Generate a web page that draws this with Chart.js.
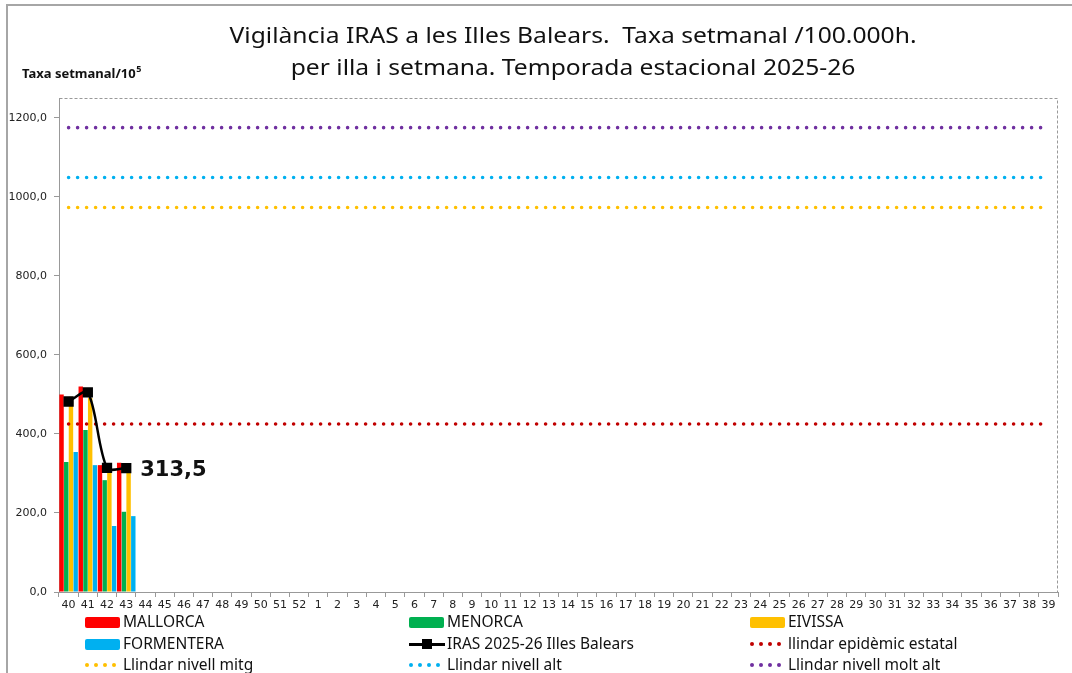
<!DOCTYPE html>
<html>
<head>
<meta charset="utf-8">
<script src="https://cdn.jsdelivr.net/npm/chart.js@4"></script>
<style>
  body { margin: 0; background: #fff; }
  #wrap { position: relative; width: 1072px; height: 673px; }
  .leg { position: absolute; font-family: "Noto Sans", sans-serif; font-size: 15.5px; color: #111; white-space: nowrap; line-height: 20px; }
  .sw { position: absolute; border-radius: 2px; }
  .dots { position: absolute; height: 4px; }
  .dots span { position: absolute; top: 0; width: 4px; height: 4px; border-radius: 2px; }
</style>
</head>
<body>
<div id="wrap">
  <canvas id="Chart" width="1072" height="673"></canvas>
  <div id="legend"></div>
</div>
<script>
// Weeks of the season (40..52, 1..39)
var weeks = ["40","41","42","43","44","45","46","47","48","49","50","51","52",
  "1","2","3","4","5","6","7","8","9","10","11","12","13","14","15","16","17","18","19",
  "20","21","22","23","24","25","26","27","28","29","30","31","32","33","34","35","36","37","38","39"];

// Weekly rate per island (/100.000h)
var mallorca = [500, 520, 321, 327];
var menorca = [329, 410, 283, 203];
var eivissa = [494, 491, 313, 324];
var formentera = [354, 321, 167, 192];
var irasBalears = [482, 505, 314, 313.5];

// Thresholds
var llindarEpidemic = 425;
var llindarMitg = 973;
var llindarAlt = 1049;
var llindarMoltAlt = 1175;

var yTicks = [0, 200, 400, 600, 800, 1000, 1200];

function flat(v) { return weeks.map(function () { return v; }); }

function dotted(label, color, value) {
  return {
    type: 'line', label: label, data: flat(value),
    borderColor: color, backgroundColor: color,
    borderWidth: 3.6, borderDash: [0, 9], borderCapStyle: 'round',
    pointRadius: 0, fill: false, order: 1
  };
}

function bar(label, color, data) {
  return { type: 'bar', label: label, data: data, backgroundColor: color, order: 3,
           categoryPercentage: 0.98, barPercentage: 0.94 };
}

// draw a title line stretched to the width it has in the original
function wideText(c, txt, cx, y, scaleX) {
  c.save();
  c.translate(cx, y);
  c.scale(scaleX, 1);
  c.fillText(txt, 0, 0);
  c.restore();
}

// Frame, plot border, titles and the last value label
var decor = {
  id: 'decor',
  beforeDraw: function (chart) {
    var c = chart.ctx;
    c.save();
    c.strokeStyle = '#a6a6a6';
    c.lineWidth = 2;
    c.beginPath();
    c.moveTo(7, 673); c.lineTo(7, 5); c.lineTo(1072, 5);
    c.stroke();
    c.restore();
  },
  afterDraw: function (chart) {
    var c = chart.ctx, a = chart.chartArea;
    c.save();
    c.strokeStyle = '#999';
    c.lineWidth = 1;
    c.setLineDash([3, 2]);
    c.beginPath();
    c.moveTo(a.left + 0.5, a.top + 0.5);
    c.lineTo(a.right - 0.5, a.top + 0.5); c.lineTo(a.right - 0.5, a.bottom);
    c.stroke();
    c.setLineDash([]);

    c.fillStyle = '#111';
    c.textAlign = 'center';
    c.textBaseline = 'alphabetic';
    c.font = '22.5px "Noto Sans"';
    var t1 = 'Vigilància IRAS a les Illes Balears.  Taxa setmanal /100.000h.';
    var sx = 687 / c.measureText(t1).width;
    wideText(c, t1, 573, 43, sx);
    wideText(c, 'per illa i setmana. Temporada estacional 2025-26', 573, 75, sx);

    c.textAlign = 'left';
    c.font = 'bold 13px "Noto Sans"';
    var t = 'Taxa setmanal/10';
    c.fillText(t, 22, 78);
    var w = c.measureText(t).width;
    c.font = 'bold 9px "Noto Sans"';
    c.fillText('5', 22 + w + 0.5, 72);

    var meta = chart.getDatasetMeta(4);
    var last = meta.data[irasBalears.length - 1];
    c.font = 'bold 21px "DejaVu Sans"';
    c.textBaseline = 'middle';
    c.fillText(irasBalears[irasBalears.length - 1].toFixed(1).replace('.', ','), last.x + 14, last.y + 2);
    c.restore();
  }
};

var chart = document.getElementById("Chart");
var myChart = new Chart(chart, {
  data: {
    labels: weeks,
    datasets: [
      bar("MALLORCA", "#ff0000", mallorca),
      bar("MENORCA", "#00b050", menorca),
      bar("EIVISSA", "#ffc000", eivissa),
      bar("FORMENTERA", "#00b0f0", formentera),
      {
        type: 'line', label: "IRAS 2025-26 Illes Balears", data: irasBalears,
        borderColor: "#000", backgroundColor: "#000", borderWidth: 2.5,
        pointStyle: 'rect', pointRadius: 5.5, pointHoverRadius: 5.5,
        tension: 0.3, fill: false, order: 0
      },
      dotted("llindar epidèmic estatal", "#c00000", llindarEpidemic),
      dotted("Llindar nivell mitg", "#ffc000", llindarMitg),
      dotted("Llindar nivell alt", "#00b0f0", llindarAlt),
      dotted("Llindar nivell molt alt", "#7030a0", llindarMoltAlt)
    ]
  },
  options: {
    responsive: false,
    animation: false,
    layout: { padding: { left: 0, right: 14, top: 98, bottom: 59 } },
    plugins: { legend: { display: false }, title: { display: false }, tooltip: { enabled: false } },
    scales: {
      x: {
        offset: true,
        grid: { display: true, drawOnChartArea: false, drawTicks: true, tickLength: 5, color: '#999', offset: true },
        border: { display: true, color: '#999', dash: [3, 2] },
        ticks: { autoSkip: false, maxRotation: 0, padding: 2, color: '#222', font: { family: 'DejaVu Sans', size: 11 } },
        afterFit: function (s) { s.height = 22; }
      },
      y: {
        min: 0, max: 1250,
        afterBuildTicks: function (s) { s.ticks = yTicks.map(function (v) { return { value: v }; }); },
        grid: { display: true, drawOnChartArea: false, drawTicks: true, tickLength: 5, color: '#999' },
        border: { display: true, color: '#999', dash: [3, 2] },
        ticks: {
          padding: 7, color: '#222', font: { family: 'DejaVu Sans', size: 11 },
          callback: function (v) { return v.toFixed(1).replace('.', ','); }
        },
        afterFit: function (s) { s.width = 59; }
      }
    }
  },
  plugins: [decor]
});

// ---------------- Legend (3 columns) ----------------
var legendItems = [
  { kind: 'box', color: '#ff0000', text: 'MALLORCA', col: 0, row: 0 },
  { kind: 'box', color: '#00b050', text: 'MENORCA', col: 1, row: 0 },
  { kind: 'box', color: '#ffc000', text: 'EIVISSA', col: 2, row: 0 },
  { kind: 'box', color: '#00b0f0', text: 'FORMENTERA', col: 0, row: 1 },
  { kind: 'line', color: '#000', text: 'IRAS 2025-26 Illes Balears', col: 1, row: 1 },
  { kind: 'dots', color: '#c00000', text: 'llindar epidèmic estatal', col: 2, row: 1 },
  { kind: 'dots', color: '#ffc000', text: 'Llindar nivell mitg', col: 0, row: 2 },
  { kind: 'dots', color: '#00b0f0', text: 'Llindar nivell alt', col: 1, row: 2 },
  { kind: 'dots', color: '#7030a0', text: 'Llindar nivell molt alt', col: 2, row: 2 }
];
var colX = [85, 409, 750];
var rowY = [622, 644, 665];
var legend = document.getElementById('legend');
legendItems.forEach(function (it) {
  var x = colX[it.col], y = rowY[it.row], el;
  if (it.kind == 'box') {
    el = document.createElement('div');
    el.className = 'sw';
    el.style.cssText = 'left:' + x + 'px;top:' + (y - 5) + 'px;width:35px;height:11px;background:' + it.color;
    legend.appendChild(el);
  } else if (it.kind == 'line') {
    el = document.createElement('div');
    el.style.cssText = 'position:absolute;left:' + x + 'px;top:' + (y - 1) + 'px;width:36px;height:2.5px;background:#000';
    legend.appendChild(el);
    el = document.createElement('div');
    el.style.cssText = 'position:absolute;left:' + (x + 13) + 'px;top:' + (y - 5) + 'px;width:10px;height:10px;background:#000';
    legend.appendChild(el);
  } else {
    el = document.createElement('div');
    el.className = 'dots';
    el.style.cssText = 'left:' + x + 'px;top:' + (y - 2) + 'px;width:32px';
    for (var i = 0; i < 4; i++) {
      var d = document.createElement('span');
      d.style.left = (i * 9) + 'px';
      d.style.background = it.color;
      el.appendChild(d);
    }
    legend.appendChild(el);
  }
  var t = document.createElement('div');
  t.className = 'leg';
  t.style.left = (x + 38) + 'px';
  t.style.top = (y - 11) + 'px';
  t.textContent = it.text;
  legend.appendChild(t);
});
</script>
</body>
</html>
